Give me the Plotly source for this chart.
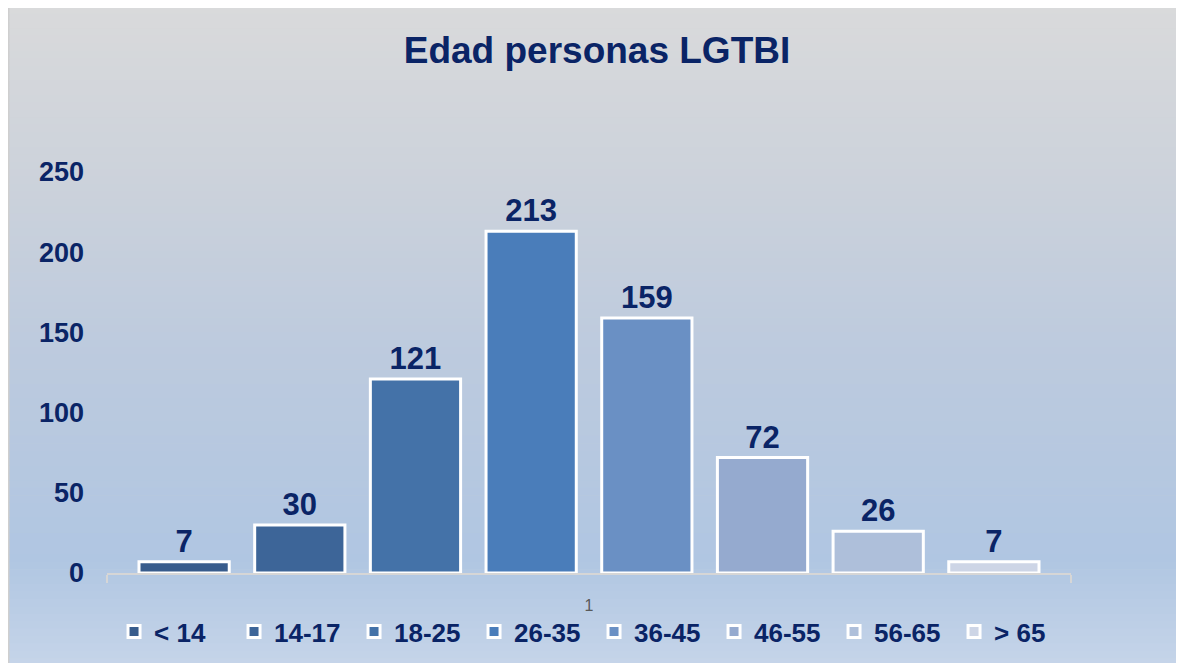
import plotly.graph_objects as go

# ---- data ----
categories = ["< 14", "14-17", "18-25", "26-35", "36-45", "46-55", "56-65", "> 65"]
values = [7, 30, 121, 213, 159, 72, 26, 7]
x_label = "1"
title_text = "Edad personas LGTBI"

# ---- styles ----
bar_colors = ["#385C8C", "#3D6598", "#4472A8", "#4A7DBA", "#6A90C4",
              "#95AACF", "#AEBFDA", "#CDD5E6"]
navy = "#0A2466"
W, H = 1184, 663
S = 8  # page body offset
ML, MT = 107 - S, 172 - S
PLOT_BOTTOM = 573 - S
PLOT_RIGHT = 1071 - S
MB, MR = H - PLOT_BOTTOM, W - PLOT_RIGHT
PW, PH = W - ML - MR, H - MT - MB

fig = go.Figure()
for name, v, col in zip(categories, values, bar_colors):
    fig.add_trace(go.Bar(
        x=[x_label], y=[v], name=name,
        marker=dict(color=col, line=dict(color="white", width=3)),
        text=[v], textposition="outside", cliponaxis=False,
        textfont=dict(family="Liberation Sans", size=31, color=navy, weight="bold"),
        hoverinfo="skip",
    ))

# figure px -> paper coords
def px2x(px):
    return (px - ML) / PW

def py2y(py):
    return (PLOT_BOTTOM - py) / PH

# gradient stops given in screen px
stops = [(6, (217, 218, 219)), (180, (204, 210, 219)), (360, (188, 202, 222)),
         (560, (176, 198, 226)), (663, (197, 212, 233))]

def col_at(py):
    for (a, ca), (b, cb) in zip(stops[:-1], stops[1:]):
        if a <= py <= b:
            t = (py - a) / (b - a)
            return tuple(int(round(ca[i] + (cb[i] - ca[i]) * t)) for i in range(3))
    return stops[-1][1]

shapes = []
shapes.append(dict(type="rect", xref="paper", yref="paper", layer="below",
                   x0=px2x(-2), x1=px2x(W + 5), y0=py2y(H + 5), y1=py2y(-5),
                   fillcolor="#CFCFCF", line=dict(width=0)))
n = 90
top, bot = -2, H + 2
step = (bot - top) / n
for i in range(n):
    a = top + i * step
    b = a + step + 0.6
    c = col_at(a + step / 2 + S)
    shapes.append(dict(type="rect", xref="paper", yref="paper", layer="below",
                       x0=px2x(1.5), x1=px2x(W + 5), y0=py2y(b), y1=py2y(a),
                       fillcolor="rgb(%d,%d,%d)" % c, line=dict(width=0)))

fig.update_layout(
    width=W, height=H, autosize=False,
    margin=dict(l=ML, r=MR, t=MT, b=MB, pad=0, autoexpand=False),
    paper_bgcolor="white", plot_bgcolor="rgba(0,0,0,0)",
    shapes=shapes,
    barmode="group", bargap=0.04, bargroupgap=0.22,
    title=dict(text=title_text, x=589 / W, xanchor="center", y=1 - 42 / H, yanchor="middle",
               font=dict(family="Liberation Sans", size=37, color=navy, weight="bold")),
    xaxis=dict(type="category", showline=True, linecolor="#D6D6D6", linewidth=2,
               ticks="outside", tickson="boundaries", ticklen=8, tickcolor="#D6D6D6",
               tickwidth=2, showgrid=False, ticklabelstandoff=17,
               tickfont=dict(family="Liberation Sans", size=16, color="#595959")),
    yaxis=dict(range=[0, 250], dtick=50, showgrid=False, zeroline=False, showline=False,
               ticks="", ticklabelstandoff=22,
               tickfont=dict(family="Liberation Sans", size=27, color=navy, weight="bold")),
    legend=dict(orientation="h", x=-0.001, xanchor="left", y=py2y(600), yanchor="top",
                bgcolor="rgba(0,0,0,0)", entrywidth=67, itemwidth=30, tracegroupgap=0,
                indentation=8,
                font=dict(family="Liberation Sans", size=26, color=navy, weight="bold")),
    showlegend=True,
)

fig.write_html("out.html")
